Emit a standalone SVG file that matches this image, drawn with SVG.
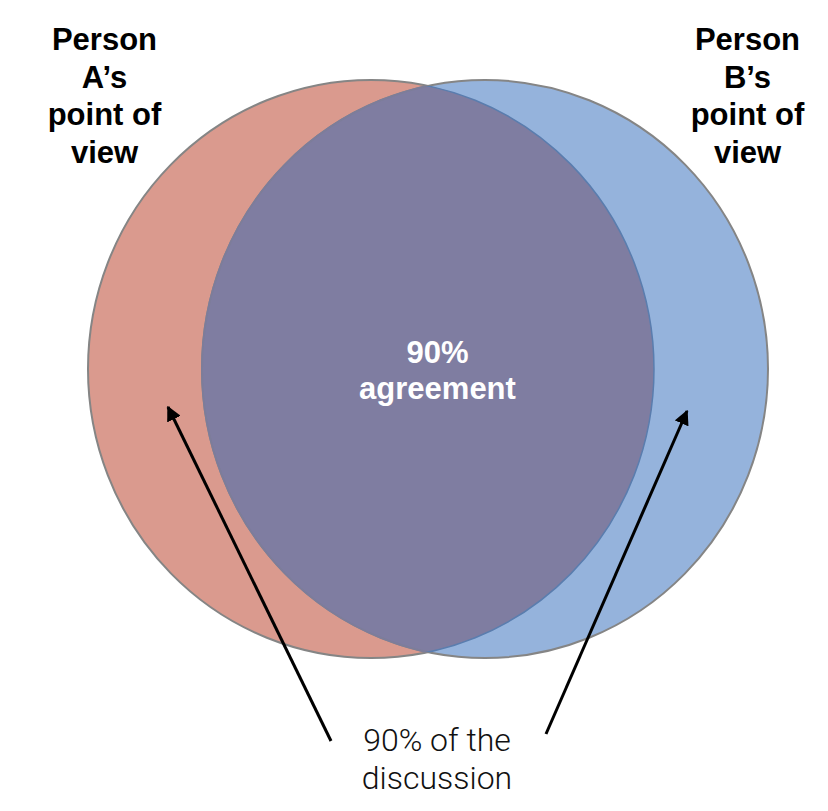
<svg xmlns="http://www.w3.org/2000/svg" width="828" height="811" viewBox="0 0 828 811">
<style>
.lbl{font-family:"Liberation Sans",Arial,sans-serif;font-weight:bold;font-size:31px;fill:#000;text-anchor:middle}
.mid{font-family:"Liberation Sans",Arial,sans-serif;font-weight:bold;font-size:31px;fill:#fff;text-anchor:middle}
.note{font-family:Roboto,"Liberation Sans",sans-serif;font-weight:300;font-size:32px;fill:#111;text-anchor:middle}
.edge{stroke:#000;stroke-width:3;fill:none}
</style>
<defs>
<marker id="ah" viewBox="0 0 10 10" refX="9" refY="5" markerWidth="5" markerHeight="5" orient="auto" markerUnits="strokeWidth">
<path d="M0,0 L10,5 L0,10 z" fill="#000"/>
</marker>
<clipPath id="clipA"><ellipse cx="371" cy="369" rx="283" ry="289"/></clipPath>
<clipPath id="clipB"><ellipse cx="485" cy="369" rx="283" ry="289"/></clipPath>
</defs>
<rect width="828" height="811" fill="#fff"/>
<g id="circleA">
<ellipse cx="371" cy="369" rx="283" ry="289" fill="#DA9A8E" stroke="#858585" stroke-width="2"/>
</g>
<g id="circleB">
<ellipse cx="485" cy="369" rx="283" ry="289" fill="#95B3DC" stroke="#858585" stroke-width="2"/>
</g>
<g id="overlap">
<ellipse cx="485" cy="369" rx="283" ry="289" fill="#7F7DA1" clip-path="url(#clipA)" stroke="#7D7D9A" stroke-width="2"/>
<ellipse cx="371" cy="369" rx="283" ry="289" fill="none" stroke="#5A7DAE" stroke-width="1.5" clip-path="url(#clipB)"/>
</g>
<g id="labelA">
<text class="lbl" x="104.5" y="50">Person</text>
<text class="lbl" x="104.5" y="87.5">A’s</text>
<text class="lbl" x="104.5" y="125">point of</text>
<text class="lbl" x="104.5" y="162.5">view</text>
</g>
<g id="labelB">
<text class="lbl" x="747.5" y="50">Person</text>
<text class="lbl" x="747.5" y="87.5">B’s</text>
<text class="lbl" x="747.5" y="125">point of</text>
<text class="lbl" x="747.5" y="162.5">view</text>
</g>
<g id="agreement">
<text class="mid" x="437.5" y="363">90%</text>
<text class="mid" x="437.5" y="399">agreement</text>
</g>
<g id="discussion">
<text class="note" x="437" y="751">90% of the</text>
<text class="note" x="437" y="789">discussion</text>
</g>
<g id="connectors">
<line class="edge" x1="331" y1="741" x2="168" y2="407" marker-end="url(#ah)"/>
<line class="edge" x1="546" y1="734" x2="687" y2="411" marker-end="url(#ah)"/>
</g>
</svg>
